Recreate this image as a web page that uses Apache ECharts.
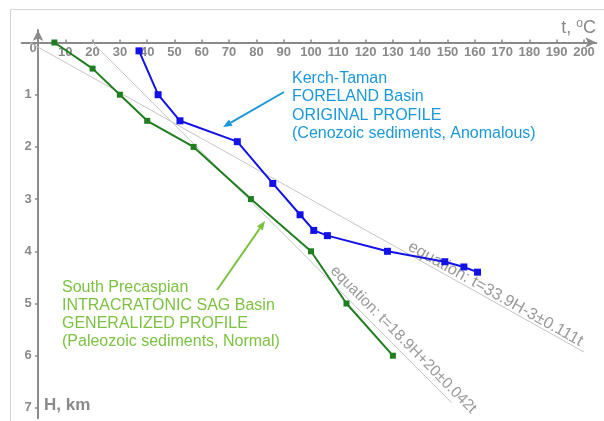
<!DOCTYPE html>
<html>
<head>
<meta charset="utf-8">
<script src="https://cdn.jsdelivr.net/npm/echarts@6/dist/echarts.min.js"></script>
<style>html,body{margin:0;padding:0;background:#fff}#c{width:604px;height:421px}</style>
</head>
<body>
<div id="c"></div>
<script>
// ---- data (t in °C, H in km) ----
const kerchT = [37, 44, 52, 73, 86, 96, 101, 106, 128, 149, 156, 161];
const kerchH = [0.16, 1.0, 1.5, 1.9, 2.7, 3.3, 3.6, 3.7, 4.0, 4.2, 4.3, 4.4];
const precT = [6, 20, 30, 40, 57, 78, 100, 113, 130];
const precH = [0, 0.5, 1.0, 1.5, 2.0, 3.0, 4.0, 5.0, 6.0];
const trendPrecT = [20, 151.5];
const trendPrecH = [0, 6.9];
const trendKerchT = [-3, 200];
const trendKerchH = [0, 5.93];
const xTicks = [10,20,30,40,50,60,70,80,90,100,110,120,130,140,150,160,170,180,190,200];
const yTicks = [1,2,3,4,5,6,7];
const eqPrec = 'equation: t=18.9H+20\u00B10.042t';
const eqKerch = 'equation: t=33.9H-3\u00B10.111t';
const kerchNote = 'Kerch-Taman\nFORELAND Basin\nORIGINAL PROFILE\n(Cenozoic sediments, Anomalous)';
const precNote = 'South Precaspian\nINTRACRATONIC SAG Basin\nGENERALIZED PROFILE\n(Paleozoic sediments, Normal)';

const zip = (a, b) => a.map((v, i) => [v, b[i]]);

// layout
const PX = 2.73, PY = 52.2, X0 = 38, Y0 = 42.5;
const XMIN = -6, XMAX = 204.5, YMIN = -0.24, YMAX = 7.2;

function arrow(x1, y1, x2, y2, color) {
  const a = Math.atan2(y2 - y1, x2 - x1), L = 9, W = 3.6;
  const bx = x2 - L * Math.cos(a), by = y2 - L * Math.sin(a);
  const nx = -Math.sin(a), ny = Math.cos(a);
  return {
    type: 'group', children: [
      {type: 'line', shape: {x1, y1, x2: bx, y2: by}, style: {stroke: color, lineWidth: 2}},
      {type: 'polygon', shape: {points: [[x2, y2], [bx + nx * W, by + ny * W], [bx - nx * W, by - ny * W]]}, style: {fill: color}}
    ]
  };
}

const axisFont = {color: '#8a8a8a', fontFamily: '"Liberation Sans Narrow", "Liberation Sans", sans-serif', fontWeight: 'bold', fontSize: 13};
const chart = echarts.init(document.getElementById('c'), null, {renderer: 'canvas'});
chart.setOption({
  animation: false,
  grid: {left: X0 + XMIN * PX, top: Y0 + YMIN * PY, width: (XMAX - XMIN) * PX, height: (YMAX - YMIN) * PY, containLabel: false},
  xAxis: {
    type: 'value', position: 'top', min: XMIN, max: XMAX,
    axisLine: {onZero: true, lineStyle: {color: '#8a8a8a', width: 2}, symbol: ['none', 'arrow'], symbolSize: [8, 11]},
    axisTick: {show: true, customValues: xTicks, length: 3, lineStyle: {color: '#8a8a8a', width: 1.5}},
    axisLabel: Object.assign({customValues: xTicks, inside: true, margin: 16}, axisFont),
    splitLine: {show: false}
  },
  yAxis: {
    type: 'value', inverse: true, min: YMIN, max: YMAX,
    axisLine: {onZero: true, lineStyle: {color: '#8a8a8a', width: 2}, symbol: ['none', 'arrow'], symbolSize: [8, 11]},
    axisTick: {show: true, customValues: yTicks, length: 3, lineStyle: {color: '#8a8a8a', width: 1.5}},
    axisLabel: Object.assign({customValues: yTicks, margin: -10}, axisFont),
    splitLine: {show: false}
  },
  series: [
    {type: 'line', data: zip(trendPrecT, trendPrecH), symbol: 'none', lineStyle: {color: '#c4c4c4', width: 1}, z: 1, silent: true},
    {type: 'line', data: zip(trendKerchT, trendKerchH), symbol: 'none', lineStyle: {color: '#c4c4c4', width: 1}, z: 1, silent: true},
    {type: 'line', data: zip(precT, precH), symbol: 'rect', symbolSize: 6, showAllSymbol: true,
      lineStyle: {color: '#1f7f1f', width: 2}, itemStyle: {color: '#1f7f1f'}, z: 3},
    {type: 'line', data: zip(kerchT, kerchH), symbol: 'rect', symbolSize: 7, showAllSymbol: true,
      lineStyle: {color: '#1212e6', width: 2}, itemStyle: {color: '#1212e6'}, z: 4}
  ],
  graphic: [
    {type: 'rect', shape: {x: 10.5, y: 9.5, width: 800, height: 800}, style: {fill: 'none', stroke: '#d4d4d4', lineWidth: 1}, z: -10},
    {type: 'text', x: 33, y: 48, style: Object.assign({text: '0', textAlign: 'center', textVerticalAlign: 'middle', fill: '#8a8a8a', font: 'bold 13px "Liberation Sans Narrow", "Liberation Sans", sans-serif'})},
    {type: 'text', x: 596, y: 38, style: {
      text: 't, {s|o}C', textAlign: 'right', textVerticalAlign: 'bottom', fill: '#8a8a8a',
      font: '18px "Liberation Sans", sans-serif',
      rich: {s: {fontSize: 12, fill: '#8a8a8a', verticalAlign: 'top', padding: [0, 0, 8, 0]}}
    }},
    {type: 'text', x: 44, y: 405, style: {text: 'H, km', textVerticalAlign: 'middle', fill: '#8a8a8a', font: 'bold 17px "Liberation Sans", sans-serif'}},
    {type: 'text', x: 292, y: 69.5, style: {text: kerchNote, fill: '#1b98d8', font: '16px "Liberation Sans", sans-serif', lineHeight: 18.3, textVerticalAlign: 'top'}},
    {type: 'text', x: 62, y: 279, style: {text: precNote, fill: '#7cc142', font: '16px "Liberation Sans", sans-serif', lineHeight: 18, textVerticalAlign: 'top'}},
    arrow(284, 92, 223, 127, '#1b98d8'),
    arrow(217, 290, 265, 221, '#7cc142'),
    {type: 'text', x: 405, y: 253, rotation: -29.3 * Math.PI / 180, style: {text: eqKerch, fill: '#9a9a9a', font: '16.5px "Liberation Sans", sans-serif', textVerticalAlign: 'bottom'}},
    {type: 'text', x: 327, y: 274, rotation: -45.3 * Math.PI / 180, style: {text: eqPrec, fill: '#9a9a9a', font: '15.5px "Liberation Sans", sans-serif', textVerticalAlign: 'bottom'}}
  ]
});
</script>
</body>
</html>
